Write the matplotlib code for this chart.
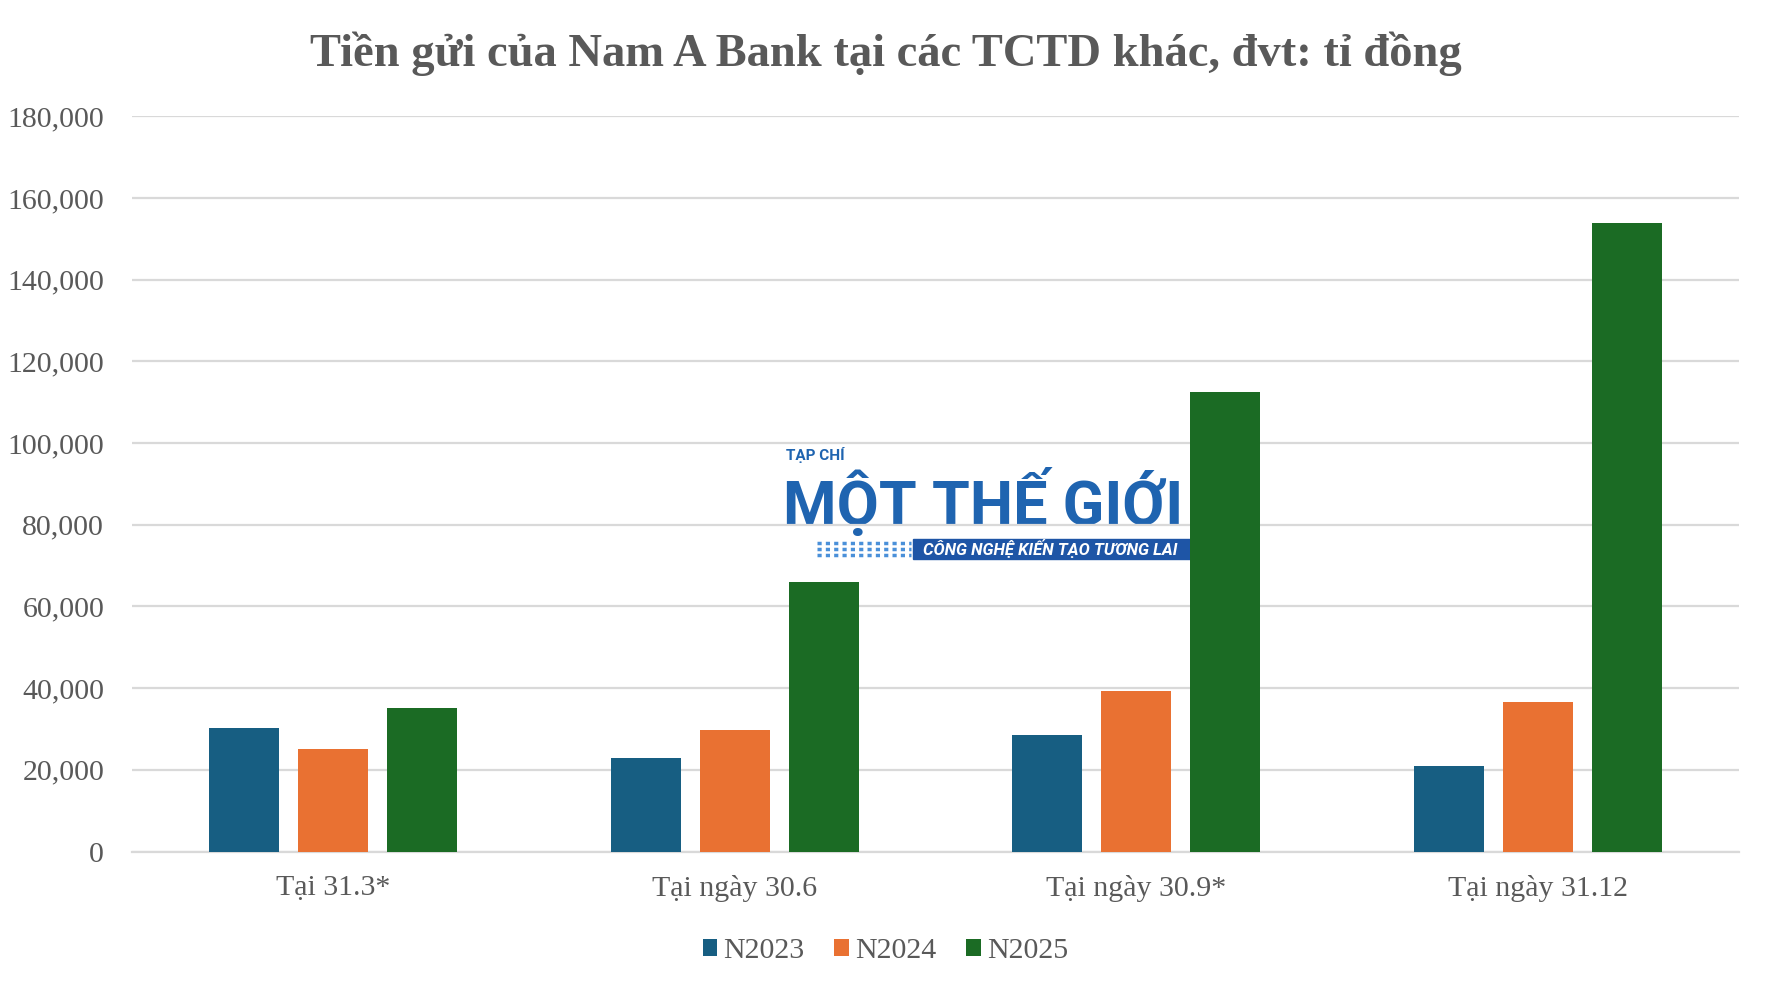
import matplotlib
matplotlib.use("Agg")
import matplotlib.pyplot as plt
import numpy as np
from matplotlib.patches import Rectangle

categories = ["Tại 31.3*", "Tại ngày 30.6", "Tại ngày 30.9*", "Tại ngày 31.12"]
series_names = ["N2023", "N2024", "N2025"]
n2023 = [30300, 23000, 28500, 20900]
n2024 = [25200, 29800, 39200, 36600]
n2025 = [35200, 65900, 112600, 153900]
colors = ["#175e82", "#e97132", "#1b6b24"]
yticks = [0, 20000, 40000, 60000, 80000, 100000, 120000, 140000, 160000, 180000]

plt.rcParams['font.family'] = ['Liberation Serif', 'DejaVu Serif']
text_color = "#595959"

fig = plt.figure(figsize=(17.71, 10.07), dpi=100)
ax = fig.add_axes([0.0745, 0.1544, 0.9075, 0.7300])

x = np.arange(len(categories))
width = 0.174
step = 0.2215
for i, (vals, name) in enumerate(zip([n2023, n2024, n2025], series_names)):
    ax.bar(x + (i - 1) * step, vals, width, color=colors[i], label=name, zorder=3)

ax.set_xlim(-0.5, len(categories) - 0.5)
ax.set_ylim(0, 180000)
ax.set_yticks(yticks)
ax.set_yticklabels([f"{v:,}" for v in yticks])
ax.set_xticks(x)
ax.set_xticklabels(categories)
ax.tick_params(axis='both', length=0, labelsize=21.5, labelcolor=text_color)
ax.tick_params(axis='y', pad=20)
ax.tick_params(axis='x', pad=17)
ax.grid(axis='y', color='#d9d9d9', linewidth=1.6, zorder=0)
for s in ['top', 'right', 'left']:
    ax.spines[s].set_visible(False)
ax.spines['bottom'].set_color('#d9d9d9')
ax.spines['bottom'].set_linewidth(1.6)

fig.text(0.5, 0.947, "Tiền gửi của Nam A Bank tại các TCTD khác, đvt: tỉ đồng",
         ha='center', va='center', fontsize=33.5, fontweight='bold', color=text_color)

fig.legend(loc='center', bbox_to_anchor=(0.5, 0.0556), ncol=3, frameon=False,
           fontsize=21.5, labelcolor=text_color, handlelength=0.5, handleheight=0.5,
           handletextpad=0.2, columnspacing=1.0)

# watermark logo (behind the bars)
logo = "#1f64b0"
ftr = fig.transFigure
ax.text(786 / 1771, 1 - 455 / 1007, "TẠP CHÍ", transform=ftr,
        fontsize=11, fontweight='bold', color=logo, family='Roboto', va='center', zorder=1)
ax.text(783 / 1771, 1 - 503 / 1007, "MỘT THẾ GIỚI", transform=ftr,
        fontsize=44, fontweight='bold', color=logo, family='Roboto', va='center', zorder=1)
ax.add_patch(Rectangle((913 / 1771, 1 - 559 / 1007), 279 / 1771, 20 / 1007,
                       transform=ftr, color="#1e55a6", zorder=1, clip_on=False))
for yy in [543, 549, 555]:
    ax.plot([817 / 1771, 911 / 1771], [1 - yy / 1007, 1 - yy / 1007], transform=ftr,
            color="#4a90d9", linestyle=(0, (1.2, 1.2)), linewidth=2.5, zorder=1, clip_on=False)
ax.text(923 / 1771, 1 - 549 / 1007, "CÔNG NGHỆ KIẾN TẠO TƯƠNG LAI", transform=ftr,
        fontsize=12, fontweight='bold', style='italic', color='white', family='Roboto',
        va='center', zorder=2)

fig.savefig("out.png", dpi=100)
